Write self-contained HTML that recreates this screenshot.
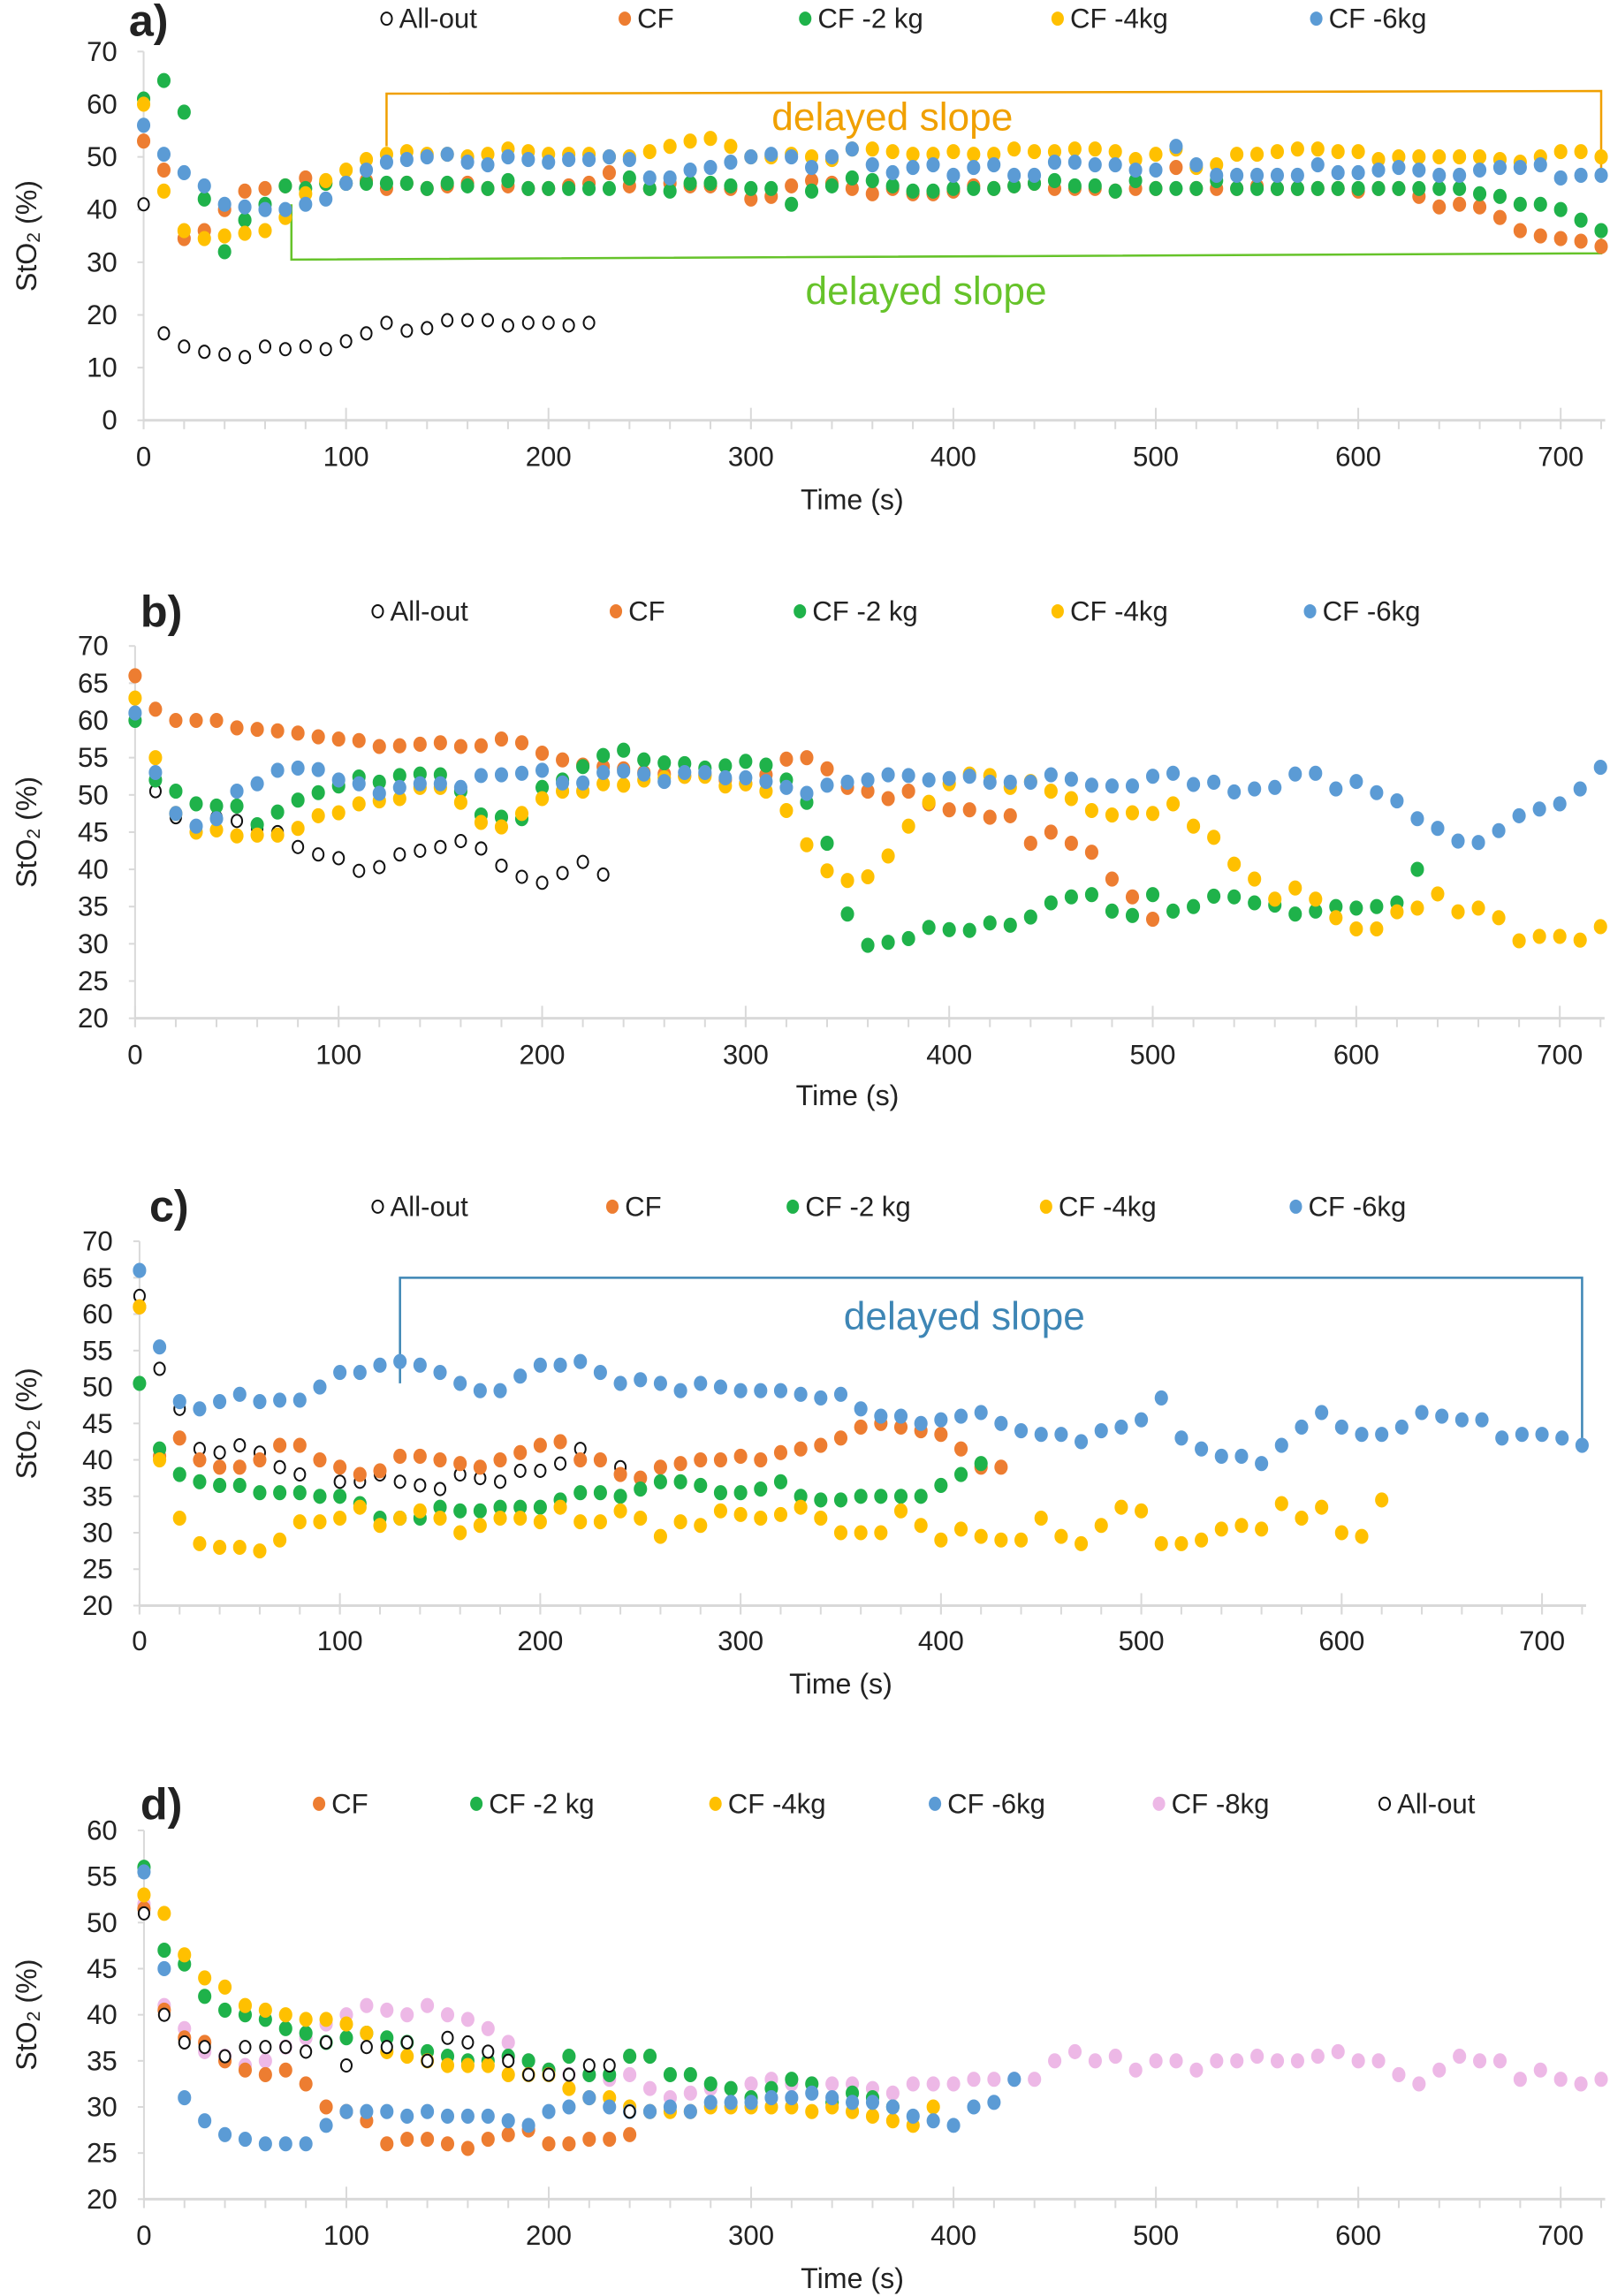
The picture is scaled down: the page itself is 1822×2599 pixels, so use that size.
<!DOCTYPE html>
<html><head><meta charset="utf-8"><style>
html,body{margin:0;padding:0;background:#fff}
svg{display:block;font-family:"Liberation Sans",Arial,sans-serif}
</style></head><body>
<svg width="1822" height="2599" viewBox="0 0 1822 2599" xmlns="http://www.w3.org/2000/svg"><g id="fig" transform="scale(1.0058)"></g></svg>
<script>
// ---------- DATA (values at t = 0,10,20,... s) ----------
const aAllOut=[41,16.5,14,13,12.5,12,14,13.5,14,13.5,15,16.5,18.5,17,17.5,19,19,19,18,18.5,18.5,18,18.5];
const aCF=[53,47.5,34.5,36,40,43.5,44,44.5,46,45,45,45.5,44,45,44,44.5,45,44,44.5,44,44,44.5,45,47,44.5,44,45,44.5,44.5,44,42,42.5,44.5,45.5,45,44,43,44,43,43,43.5,44.5,44,44.5,45,44,44,44,43.5,44,44,48,44,44,44,44.5,44,44,44,44,43.5,44,44,42.5,40.5,41,40.5,38.5,36,35,34.5,34,33];
const aCF2=[61,64.5,58.5,42,32,38,41,44.5,44,45,45,45,45,45,44,45,44.5,44,45.5,44,44,44,44,44,46,44,43.5,45,45,44.5,44,44,41,43.5,44.5,46,45.5,44.5,43.5,43.5,44,44,44,44.5,45,45.5,44.5,44.5,43.5,45.5,44,44,44,45.5,44,44,44,44,44,44,44,44,44,44,44,44,43,42.5,41,41,40,38,36];
const aCF4=[60,43.5,36,34.5,35,35.5,36,38.5,43,45.5,47.5,49.5,50.5,51,50.5,50.5,50,50.5,51.5,51,50.5,50.5,50.5,50,50,51,52,53,53.5,52,50,50,50.5,50,49.5,51.5,51.5,51,50.5,50.5,51,50.5,50.5,51.5,51,51,51.5,51.5,51,49.5,50.5,51.5,48,48.5,50.5,50.5,51,51.5,51.5,51,51,49.5,50,50,50,50,50,49.5,49,50,51,51,50];
const aCF6=[56,50.5,47,44.5,41,40.5,40,40,41,42,45,47.5,49,49.5,50,50.5,49,48.5,50,49.5,49,49.5,49.5,50,49.5,46,46,47.5,48,49,50,50.5,50,48,50,51.5,48.5,47,48,48.5,46.5,48,48.5,46.5,46.5,49,49,48.5,48.5,47.5,47.5,52,48.5,46.5,46.5,46.5,46.5,46.5,48.5,47,47,47.5,48,47.5,46.5,46.5,47.5,48,48,48.5,46,46.5,46.5];

const bAllOut=[60,50.5,47,45.5,47,46.5,45.5,45,43,42,41.5,39.8,40.3,42,42.5,43,43.8,42.8,40.5,39,38.2,39.5,41,39.3];
const bCF=[66,61.5,60,60,60,59,58.8,58.6,58.3,57.8,57.5,57.3,56.5,56.6,56.8,57,56.5,56.6,57.5,57,55.6,54.7,54,53.8,53.5,53,52.8,52.5,52.7,52,51.5,52.7,54.8,55,53.5,51,50.5,49.5,50.5,48.8,48,48,47,47.2,43.5,45,43.5,42.3,38.7,36.3,33.3];
const bCF2=[60,52,50.5,48.8,48.5,48.5,46,47.7,49.3,50.3,51.2,52.4,51.7,52.6,52.8,52.7,50.5,47.3,47,46.8,51,52,53.8,55.3,56,54.7,54.3,54.2,53.6,53.9,54.5,54,52,49,43.5,34,29.8,30.2,30.7,32.2,31.9,31.8,32.8,32.5,33.6,35.5,36.3,36.6,34.4,33.8,36.6,34.4,35,36.4,36.3,35.5,35.2,34,34.4,35,34.8,35,35.5,40];
const bCF4=[63,55,47.5,45,45.3,44.5,44.6,44.6,45.5,47.2,47.6,48.8,49.2,49.5,51,51,49,46.3,45.7,47.5,49.5,50.5,50.5,51.5,51.3,52,52.3,52.5,52.5,51.2,51.5,50.5,47.9,43.3,39.8,38.5,39,41.8,45.8,49,51.5,52.8,52.6,51,51.8,50.5,49.5,47.9,47.3,47.6,47.5,48.8,45.8,44.3,40.7,38.7,36,37.5,36,33.5,32,32,34.3,34.8,36.7,34.3,34.8,33.5,30.4,31,31,30.5,32.3];
const bCF6=[61,53,47.5,45.8,46.8,50.5,51.5,53.3,53.6,53.4,52,51.5,50.2,51,51.5,51.5,51,52.6,52.7,52.9,53.3,51.6,51.6,53,53.2,52.8,51.8,53,53,52.3,52.3,51.8,51,50.2,51.3,51.7,52,52.7,52.6,52,52.2,52.5,51.7,51.7,51.7,52.7,52.1,51.3,51.2,51.2,52.5,52.9,51.4,51.7,50.4,50.8,51,52.8,52.9,50.8,51.8,50.3,49.2,46.8,45.5,43.8,43.6,45.2,47.2,48.1,48.8,50.8,53.7];

const cAllOut=[62.5,52.5,47,41.5,41,42,41,39,38,35,37,37,38,37,36.5,36,38,37.5,37,38.5,38.5,39.5,41.5,40,39];
const cCF=[61,40.5,43,40,39,39,40,42,42,40,39,38,38.5,40.5,40.5,40,39.5,39,40,41,42,42.5,40,40,38,37.5,39,39.5,40,40,40.5,40,41,41.5,42,43,44.5,45,44.5,44,43.5,41.5,39,39];
const cCF2=[50.5,41.5,38,37,36.5,36.5,35.5,35.5,35.5,35,35,34,32,32,32,33.5,33,33,33.5,33.5,33.5,34.5,35.5,35.5,35,36,37,37,36.5,35.5,35.5,36,37,35,34.5,34.5,35,35,35,35,36.5,38,39.5];
const cCF4=[61,40,32,28.5,28,28,27.5,29,31.5,31.5,32,33.5,31,32,33,32,30,31,32,32,31.5,33.5,31.5,31.5,33,32,29.5,31.5,31,33,32.5,32,32.5,33.5,32,30,30,30,33,31,29,30.5,29.5,29,29,32,29.5,28.5,31,33.5,33,28.5,28.5,29,30.5,31,30.5,34,32,33.5,30,29.5,34.5];
const cCF6=[66,55.5,48,47,48,49,48,48.2,48.2,50,52,52,53,53.5,53,52,50.5,49.5,49.5,51.5,53,53,53.5,52,50.5,51,50.5,49.5,50.5,50,49.5,49.5,49.5,49,48.5,49,47,46,46,45,45.5,46,46.5,45,44,43.5,43.5,42.5,44,44.5,45.5,48.5,43,41.5,40.5,40.5,39.5,42,44.5,46.5,44.5,43.5,43.5,44.5,46.5,46,45.5,45.5,43,43.5,43.5,43,42];

const dCF=[51.5,40.5,37.5,37,35,34,33.5,34,32.5,30,29.5,28.5,26,26.5,26.5,26,25.5,26.5,27,27.5,26,26,26.5,26.5,27];
const dCF2=[56,47,45.5,42,40.5,40,39.5,38.5,38,37,37.5,38,37.5,37,36,35.5,35,35,35.5,35,34,35.5,33.5,33.5,35.5,35.5,33.5,33.5,32.5,32,31,32,33,32.5,30.5,31.5,31,30];
const dCF4=[53,51,46.5,44,43,41,40.5,40,39.5,39.5,39,38,36,35.5,35,34.5,34.5,34.5,33.5,33.5,33.5,32,31,31,30,29.5,29.5,29.5,30,30,30,30,30,29.5,30,29.5,29,28.5,28,30];
const dCF6=[55.5,45,31,28.5,27,26.5,26,26,26,28,29.5,29.5,29.5,29,29.5,29,29,29,28.5,28,29.5,30,31,30,29.5,29.5,30,29.5,30.5,30.5,30.5,31,31,31.5,31,30.5,30.5,30,29,28.5,28,30,30.5,33];
const dCF8=[52,41,38.5,36,35.5,34.5,35,36.5,37.5,39,40,41,40.5,40,41,40,39.5,38.5,37,35,34,33.5,33.5,33,33.5,32,31,31.5,32,32,32.5,33,32.5,32.5,32.5,32.5,32,31.5,32.5,32.5,32.5,33,33,33,33,35,36,35,35.5,34,35,35,34,35,35,35.5,35,35,35.5,36,35,35,33.5,32.5,34,35.5,35,35,33,34,33,32.5,33];
const dAllOut=[51,40,37,36.5,35.5,36.5,36.5,36.5,36,37,34.5,36.5,36.5,37,35,37.5,37,36,35,33.5,33.5,33.5,34.5,34.5,29.5];

const xTicks=[0,100,200,300,400,500,600,700];
const yTicksA=[0,10,20,30,40,50,60,70];
const yTicksB=[20,25,30,35,40,45,50,55,60,65,70];
const yTicksD=[20,25,30,35,40,45,50,55,60];

// ---------- DRAWING ----------
const NS="http://www.w3.org/2000/svg";
const svg=document.getElementById('fig');
const COL={cf:'#ED7D31',cf2:'#1FB24A',cf4:'#FFC000',cf6:'#5B9BD5',cf8:'#EDB8E6',all:'#fff'};
function mk(tag,attrs,parent){const e=document.createElementNS(NS,tag);for(const k in attrs)e.setAttribute(k,attrs[k]);(parent||svg).appendChild(e);return e;}
function txt(s,x,y,size,anchor,parent,extra){const t=mk('text',Object.assign({x:x,y:y,'font-size':size,'text-anchor':anchor||'start',fill:'#222','dominant-baseline':'central'},extra||{}),parent);t.textContent=s;return t;}

function panel(cfg){
  const g=mk('g',{});
  
  
  const X=v=>cfg.x0+(v/700)*(cfg.x700-cfg.x0);
  const Y=v=>cfg.yb+(v-cfg.ymin)/(cfg.ymax-cfg.ymin)*(cfg.yt-cfg.yb);
  const yax=mk('line',{x1:X(0),x2:X(0),y1:Y(cfg.ymax),y2:Y(cfg.ymin),stroke:'#d9d9d9','stroke-width':2},g);
  
  
  const xax=mk('line',{x1:X(0),x2:X(722),y1:Y(cfg.ymin),y2:Y(cfg.ymin),stroke:'#d9d9d9','stroke-width':3},g);
  
  
  for(let t=0;t<=720;t+=20){mk('line',{x1:X(t),x2:X(t),y1:Y(cfg.ymin),y2:Y(cfg.ymin)+10,stroke:'#d9d9d9','stroke-width':2},g);}
  xTicks.forEach(t=>{
    mk('line',{x1:X(t),x2:X(t),y1:Y(cfg.ymin)-14,y2:Y(cfg.ymin)+10,stroke:'#d9d9d9','stroke-width':2},g);
    const l=txt(String(t),X(t),cfg.xlabY,31,'middle',g);
    
    
  });
  cfg.yTicks.forEach(v=>{
    mk('line',{x1:X(0)-7,x2:X(0),y1:Y(v),y2:Y(v),stroke:'#d9d9d9','stroke-width':2},g);
    const l=txt(String(v),cfg.ylabX,Y(v),31,'end',g);
    
    
  });
  const xt=txt('Time (s)',(X(0)+X(700))/2,cfg.xtitleY,32,'middle',g);
  
  
  const ytg=mk('g',{transform:'translate(30,'+((Y(cfg.ymin)+Y(cfg.ymax))/2)+') rotate(-90)'},g);
  const yt=mk('text',{x:0,y:0,'font-size':32,'text-anchor':'middle','dominant-baseline':'central',fill:'#222'},ytg);
  yt.innerHTML='StO<tspan font-size="21" dy="8">2</tspan><tspan dy="-8"> (%)</tspan>';
  
  
  const pl=txt(cfg.id+')',cfg.labX,cfg.labY,50,'start',g,{'font-weight':'bold'});
  
  
  if(cfg.extra)cfg.extra(g,X,Y);
  cfg.series.forEach(s=>{
    const sg=mk('g',{},g);
    
    
    s.data.forEach((v,i)=>{
      const open=s.key==='all';
      const c=mk('ellipse',{cx:X(i*10),cy:Y(v),rx:open?6:7.5,ry:open?7:8.5,fill:open?'#fff':COL[s.key],stroke:open?'#111':'none','stroke-width':open?2:0},sg);
      
      
    });
  });
  cfg.legend.forEach(l=>{
    const lg=mk('g',{},g);
    
    
    const open=l.key==='all';
    mk('ellipse',{cx:l.x,cy:cfg.legY,rx:open?6:7,ry:open?7:8,fill:open?'#fff':COL[l.key],stroke:open?'#111':'none','stroke-width':2},lg);
    txt(l.label,l.x+14,cfg.legY,31,'start',lg);
  });
}

const order5=(a,cf,c2,c4,c6)=>[
 {name:'all-out',key:'all',data:a},{name:'cf',key:'cf',data:cf},{name:'cf-2kg',key:'cf2',data:c2},{name:'cf-4kg',key:'cf4',data:c4},{name:'cf-6kg',key:'cf6',data:c6}];

panel({id:'a',x0:161.6,x700:1756,yb:473,yt:58,ymin:0,ymax:70,yTicks:yTicksA,ylabX:132,xlabY:514,xtitleY:562,labX:145,labY:23,legY:21,
 series:order5(aAllOut,aCF,aCF2,aCF4,aCF6),
 legend:[{key:'all',label:'All-out',x:435},{key:'cf',label:'CF',x:703},{key:'cf2',label:'CF -2 kg',x:906},{key:'cf4',label:'CF -4kg',x:1190},{key:'cf6',label:'CF -6kg',x:1481}],
 extra:(g,X,Y)=>{
   const o=mk('polyline',{points:[X(120),Y(52),X(120),Y(62),X(720),Y(62.5),X(720),Y(47.5)].join(' '),fill:'none',stroke:'#F0A000','stroke-width':2.5},g);
   
   
   const gr=mk('polyline',{points:[X(73),Y(41),X(73),Y(30.5),X(720),Y(31.7),X(720),Y(34.5)].join(' '),fill:'none',stroke:'#66C32A','stroke-width':2.5},g);
   
   
   const t1=txt('delayed slope',1004,132,44,'middle',g,{fill:'#F0A000'});
   
   
   const t2=txt('delayed slope',1042,328,44,'middle',g,{fill:'#66C32A'});
   
   
 }});

panel({id:'b',x0:152,x700:1755,yb:1146,yt:727,ymin:20,ymax:70,yTicks:yTicksB,ylabX:122,xlabY:1187,xtitleY:1233,labX:158,labY:688,legY:688,
 series:order5(bAllOut,bCF,bCF2,bCF4,bCF6),
 legend:[{key:'all',label:'All-out',x:425},{key:'cf',label:'CF',x:693},{key:'cf2',label:'CF -2 kg',x:900},{key:'cf4',label:'CF -4kg',x:1190},{key:'cf6',label:'CF -6kg',x:1474}]});

panel({id:'c',x0:157,x700:1735,yb:1807,yt:1397,ymin:20,ymax:70,yTicks:yTicksB,ylabX:127,xlabY:1847,xtitleY:1895,labX:168,labY:1357,legY:1358,
 series:order5(cAllOut,cCF,cCF2,cCF4,cCF6),
 legend:[{key:'all',label:'All-out',x:425},{key:'cf',label:'CF',x:689},{key:'cf2',label:'CF -2 kg',x:892},{key:'cf4',label:'CF -4kg',x:1177},{key:'cf6',label:'CF -6kg',x:1458}],
 extra:(g,X,Y)=>{
   const b=mk('polyline',{points:[X(130),Y(50.5),X(130),Y(65),X(720),Y(65),X(720),Y(43)].join(' '),fill:'none',stroke:'#3E86B5','stroke-width':2.5},g);
   
   
   const t=txt('delayed slope',1085,1482,44,'middle',g,{fill:'#3E86B5'});
   
   
 }});

panel({id:'d',x0:162,x700:1756,yb:2475,yt:2060,ymin:20,ymax:60,yTicks:yTicksD,ylabX:132,xlabY:2516,xtitleY:2564,labX:158,labY:2030,legY:2030,
 series:[{name:'cf-8kg',key:'cf8',data:dCF8},{name:'cf',key:'cf',data:dCF},{name:'cf-2kg',key:'cf2',data:dCF2},{name:'cf-4kg',key:'cf4',data:dCF4},{name:'cf-6kg',key:'cf6',data:dCF6},{name:'all-out',key:'all',data:dAllOut}],
 legend:[{key:'cf',label:'CF',x:359},{key:'cf2',label:'CF -2 kg',x:536},{key:'cf4',label:'CF -4kg',x:805},{key:'cf6',label:'CF -6kg',x:1052},{key:'cf8',label:'CF -8kg',x:1304},{key:'all',label:'All-out',x:1558}]});
</script>
</body></html>
